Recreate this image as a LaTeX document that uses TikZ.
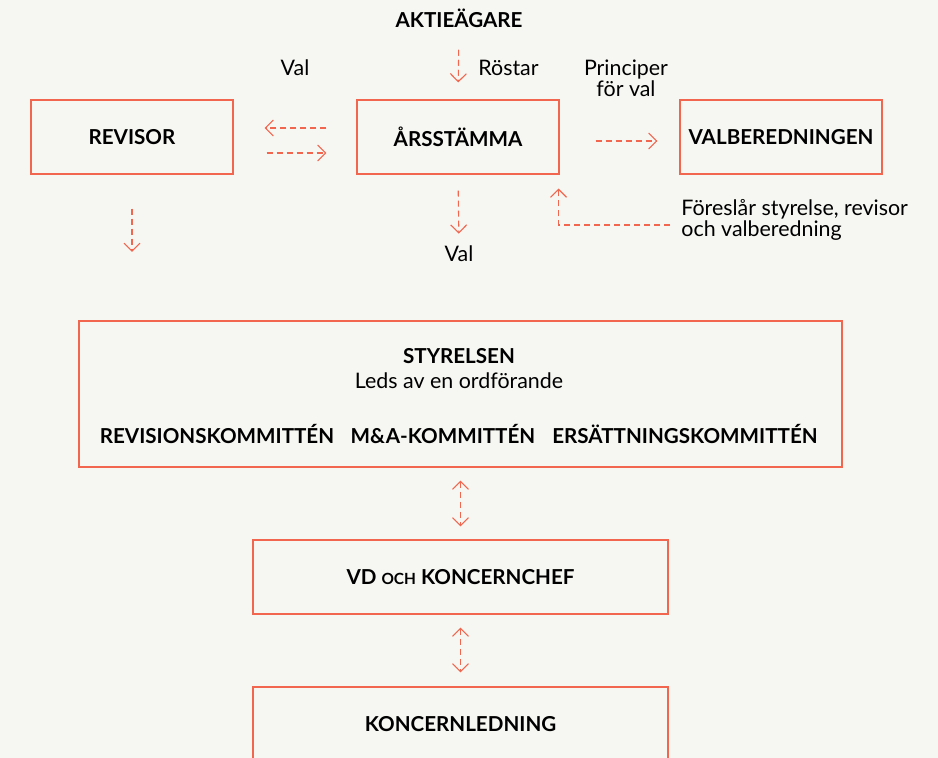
\documentclass[tikz,border=0pt]{standalone}
\usepackage{fontspec}
\setmainfont{Lato}
\usetikzlibrary{arrows.meta,positioning,calc}
\definecolor{bgcol}{HTML}{F6F6F2}
\definecolor{redline}{HTML}{F2654E}

\begin{document}
\begin{tikzpicture}[
        x=0.5pt, y=-0.5pt,
        font=\fontsize{10.7}{12.6}\selectfont,
        box/.style = {rectangle, draw=redline, line width=0.55pt, minimum width=101pt, minimum height=37pt, font=\fontsize{10.3}{12}\selectfont\bfseries},
        widebox/.style = {box, minimum width=207.5pt},
        bigbox/.style = {box, minimum width=381.5pt, minimum height=73pt},
        head/.style = {inner sep=0pt, font=\fontsize{10.3}{12}\selectfont\bfseries},
        txt/.style = {inner sep=0pt, align=center, font=\fontsize{10.7}{10.5}\selectfont},
        flow/.style = {draw=redline, line width=0.55pt, dash pattern=on 3pt off 2pt, -{Straight Barb[length=4pt,width=8pt]}},
        twoway/.style = {flow, {Straight Barb[length=4pt,width=8pt]}-{Straight Barb[length=4pt,width=8pt]}}
    ]
        \fill[bgcol] (0,0) rectangle (938,758);
        \useasboundingbox (0,0) rectangle (938,758);
        \clip (0,0) rectangle (938,758);

        % Place nodes
        \node [head] at (459,18) (owners) {AKTIEÄGARE};
        \node [box] at (132,137) (revisor) {REVISOR};
        \node [box] at (458,137) (agm) {ÅRSSTÄMMA};
        \node [box] at (781,137) (nomcom) {VALBEREDNINGEN};

        \node [txt] at (295,68) (valleft) {Val};
        \node [txt, anchor=west] at (478,68) (votes) {Röstar};
        \node [txt] at (626,78) (principles) {Principer\\för val};
        \node [txt] at (459,254) (valdown) {Val};
        \node [txt, align=left, anchor=west] at (681,220) (propose) {Föreslår styrelse, revisor\\och valberedning};

        \node [bigbox] at (460.5,394) (board) {};
        \node [head] at (459,356) (boardtitle) {STYRELSEN};
        \node [txt] at (459,381) (chair) {Leds av en ordförande};
        \node [head] at (217,434) (auditcom) {REVISIONSKOMMITTÉN};
        \node [head] at (443,434) (macom) {M\&A-KOMMITTÉN};
        \node [head] at (685,434) (remcom) {ERSÄTTNINGSKOMMITTÉN};

        \node [widebox] at (460.5,577) (ceo) {VD {\fontsize{7.7}{9}\selectfont OCH} KONCERNCHEF};
        \node [widebox] at (460.5,724) (mgmt) {KONCERNLEDNING};

        \coordinate (revend) at (132,252);
        \coordinate (propstart) at (670,225);

        % Draw edges
        \draw [flow, shorten <=11pt, shorten >=8.5pt] (owners.south) -- (agm.north);
        \draw [flow, shorten <=15pt, shorten >=15.5pt] ([yshift=4.5pt]agm.west) -- ([yshift=4.5pt]revisor.east);
        \draw [flow, shorten <=16.5pt, shorten >=15pt] ([yshift=-8pt]revisor.east) -- ([yshift=-8pt]agm.west);
        \draw [flow, shorten <=18pt, shorten >=11pt] ([yshift=-2pt]agm.east) -- ([yshift=-2pt]nomcom.west);
        \draw [flow, shorten <=8pt, shorten >=6pt] (agm.south) -- (valdown.north);
        \draw [flow] (propstart) -| ([xshift=-0.5pt,yshift=-7pt]agm.south east);
        \draw [flow, shorten <=17pt] (revisor.south) -- (revend);
        \draw [twoway, shorten <=6.5pt, shorten >=6.5pt] (board.south) -- (ceo.north);
        \draw [twoway, shorten <=6.5pt, shorten >=7pt] (ceo.south) -- (mgmt.north);

    \end{tikzpicture}
\end{document}
